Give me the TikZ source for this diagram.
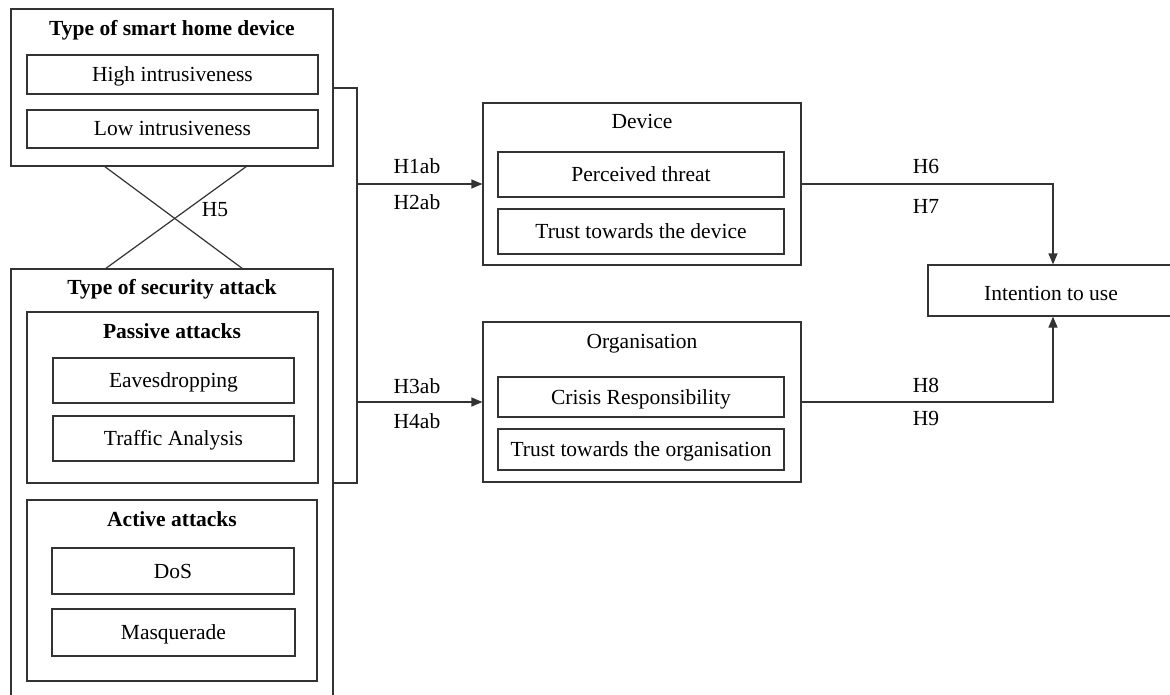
\documentclass[tikz,border=0pt]{standalone}
\usepackage{fontspec}
\setmainfont{Liberation Serif}
\usetikzlibrary{arrows.meta}
\tikzset{
  ln/.style={draw=black!80, line width=1.2pt},
  boxnode/.style={ln, rectangle, inner sep=0pt, text height=14pt, text depth=0pt, align=center},
  lbl/.style={inner sep=0pt, text height=14pt, text depth=0pt},
  ttl/.style={lbl, font=\fontsize{21.5}{24}\selectfont\bfseries},
  arr/.style={ln, -{Triangle[length=11pt,width=9pt]}},
}
\begin{document}
\begin{tikzpicture}[x=1pt,y=-1pt, font=\fontsize{21.5}{24}\selectfont]
\clip (0,0) rectangle (1170,695);
\fill[white] (0,0) rectangle (1170,695);
% smart home device
\node[boxnode, minimum width=322pt, minimum height=157pt] (smart) at (172,87.5) {};
\node[ttl] (smartt) at (172,29) {Type of smart home device};
\node[boxnode, minimum width=291pt, minimum height=39pt] (high) at (172.5,74.5) {High intrusiveness};
\node[boxnode, minimum width=291pt, minimum height=38pt] (low) at (172.5,129) {Low intrusiveness};
% security attack
\node[boxnode, minimum width=322pt, minimum height=451pt] (security) at (172,494.5) {};
\node[ttl] (securityt) at (172,287) {Type of security attack};
\node[boxnode, minimum width=291pt, minimum height=171pt] (passive) at (172.5,397.5) {};
\node[ttl] (passivet) at (172,331) {Passive attacks};
\node[boxnode, minimum width=241pt, minimum height=45pt] (eaves) at (173.5,380.5) {Eavesdropping};
\node[boxnode, minimum width=241pt, minimum height=45pt] (traffic) at (173.5,438.5) {Traffic Analysis};
\node[boxnode, minimum width=290pt, minimum height=181pt] (active) at (172,590.5) {};
\node[ttl] (activet) at (172,519) {Active attacks};
\node[boxnode, minimum width=242pt, minimum height=46pt] (dos) at (173,571) {DoS};
\node[boxnode, minimum width=243pt, minimum height=47pt] (masq) at (173.5,632.5) {Masquerade};
% device
\node[boxnode, minimum width=318pt, minimum height=162pt] (device) at (642,184) {};
\node[lbl] (devicet) at (642,122) {Device};
\node[boxnode, minimum width=286pt, minimum height=45pt] (perc) at (641,174.5) {Perceived threat};
\node[boxnode, minimum width=286pt, minimum height=45pt] (trustdev) at (641,231.5) {Trust towards the device};
% organisation
\node[boxnode, minimum width=318pt, minimum height=160pt] (org) at (642,402) {};
\node[lbl] (orgt) at (642,341) {Organisation};
\node[boxnode, minimum width=286pt, minimum height=40pt] (crisis) at (641,397) {Crisis Responsibility};
\node[boxnode, minimum width=286pt, minimum height=41pt] (trustorg) at (641,449.5) {Trust towards the organisation};
% intention
\node[boxnode, minimum width=250pt, minimum height=51pt] (intent) at (1053,290.5) {};
\node[lbl] (intentt) at (1051,293) {Intention to use};
% cross (H5)
\coordinate (ca) at (104,166);
\coordinate (cb) at (247,166);
\coordinate (cc) at (105,269);
\coordinate (cd) at (243,269);
\draw[ln] (ca) -- (cd);
\draw[ln] (cb) -- (cc);
\node[lbl] (h5) at (215,210) {H5};
% bracket
\coordinate (bt) at (357,88);
\coordinate (bb) at (357,483);
\draw[ln] (smart.east |- bt) -- (bt) -- (bb) -- (security.east |- bb);
\draw[arr] (bt |- device.west) -- (device.west);
\draw[arr] (bt |- org.west) -- (org.west);
\node[lbl] (h1) at (417,167) {H1ab};
\node[lbl] (h2) at (417,203) {H2ab};
\node[lbl] (h3) at (417,386) {H3ab};
\node[lbl] (h4) at (417,421) {H4ab};
% to intention
\draw[arr] (device.east) -- (device.east -| intent.north) -- (intent.north);
\draw[arr] (org.east) -- (org.east -| intent.south) -- (intent.south);
\node[lbl] (h6) at (926,167) {H6};
\node[lbl] (h7) at (926,207) {H7};
\node[lbl] (h8) at (926,385) {H8};
\node[lbl] (h9) at (926,418) {H9};
\end{tikzpicture}
\end{document}
